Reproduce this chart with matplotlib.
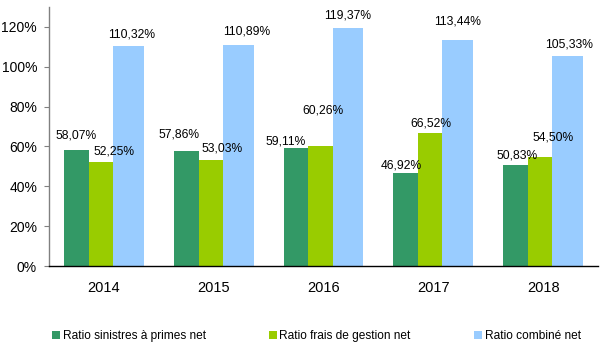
import numpy as np
import matplotlib.pyplot as plt
from matplotlib.ticker import FuncFormatter

plt.rcParams['font.family'] = ['Liberation Sans', 'DejaVu Sans']

years = ['2014', '2015', '2016', '2017', '2018']
sinistres = [58.07, 57.86, 59.11, 46.92, 50.83]
frais = [52.25, 53.03, 60.26, 66.52, 54.50]
combine = [110.32, 110.89, 119.37, 113.44, 105.33]

series_names = ['Ratio sinistres à primes net',
                'Ratio frais de gestion net',
                'Ratio combiné net']

# bar geometry (left edge relative to group centre, width)
colors = ['#339966', '#99cc00', '#99ccff']
lefts = [-0.364, -0.137, 0.082]
widths = [0.228, 0.219, 0.282]

# label nudges in pixels (dx, dy above bar top)
nudges = [
    [(0, 15), (-7, 16), (-10, 7), (-5, 7), (1, 9)],
    [(13, 10), (11, 12), (2, 35), (1, 10), (13, 20)],
    [(3, 12), (8, 14), (0, 13), (0, 18), (1, 12)],
]

fig = plt.figure(figsize=(6, 3.45), dpi=100)
ax = fig.add_axes([49 / 600, 1 - 266 / 345, 549 / 600, 259 / 345])

x = np.arange(len(years)) + 0.5
handles = []
for k, vals in enumerate([sinistres, frais, combine]):
    b = ax.bar(x + lefts[k], vals, width=widths[k], align='edge',
               color=colors[k], label=series_names[k], zorder=2)
    handles.append(b)
    for i, v in enumerate(vals):
        dx, dy = nudges[k][i]
        ax.annotate(f"{v:.2f}".replace('.', ',') + '%',
                    xy=(x[i] + lefts[k] + widths[k] / 2, v),
                    xytext=(dx, dy), textcoords='offset pixels',
                    ha='center', va='center', fontsize=8.7, color='black',
                    zorder=3)

ax.set_xlim(0, 5)
ax.set_ylim(0, 130)
ax.set_yticks(np.arange(0, 121, 20))
ax.yaxis.set_major_formatter(FuncFormatter(lambda v, p: f"{v:.0f}%"))
ax.set_xticks(x)
ax.set_xticklabels(years)

for s in ['top', 'right']:
    ax.spines[s].set_visible(False)
ax.spines['left'].set_color('#808080')
ax.spines['bottom'].set_color('black')
ax.spines['left'].set_linewidth(1)
ax.spines['bottom'].set_linewidth(1)

ax.tick_params(axis='y', direction='out', length=3.6, width=0.8,
               color='#808080', pad=5, labelsize=10)
ax.tick_params(axis='x', length=0, pad=11, labelsize=10.5)

fig.legend(handles=handles, loc='center left',
           bbox_to_anchor=(52 / 600, 1 - 336 / 345), ncol=3,
           frameon=False, fontsize=8.6, borderpad=0, borderaxespad=0,
           handlelength=0.68, handleheight=0.68, handletextpad=0.2,
           columnspacing=5.3)

fig.savefig('out.png', dpi=100)
